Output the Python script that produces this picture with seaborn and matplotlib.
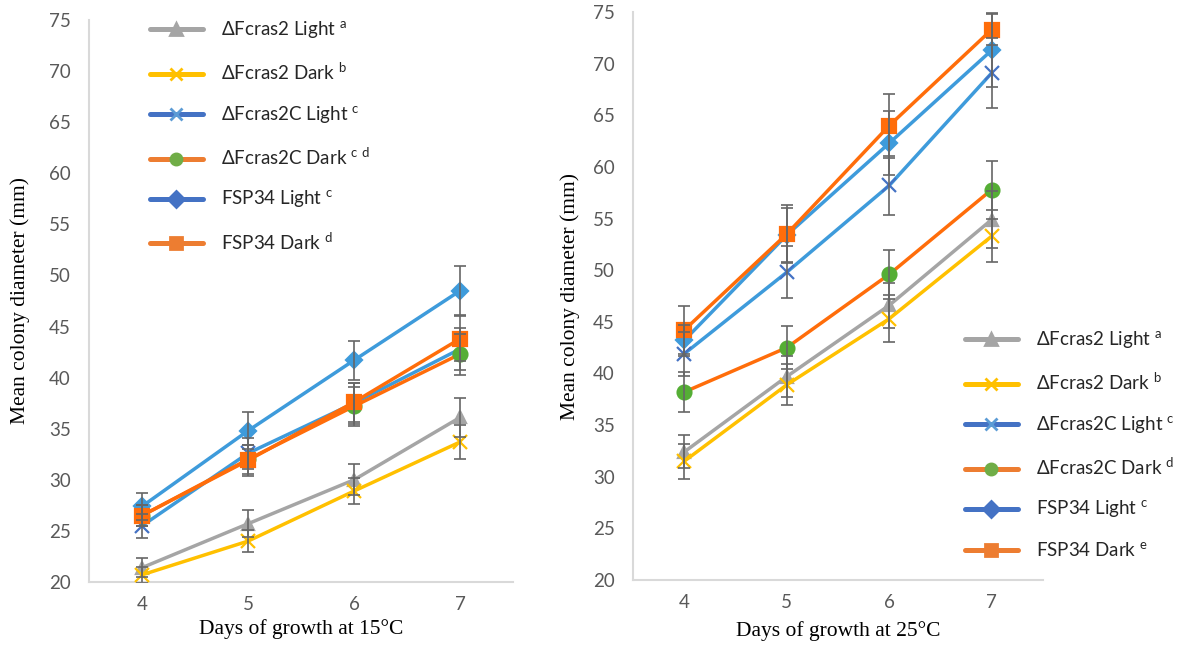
#===========================================
# Colony growth of Fcras2 strains, light vs dark
# 15 C and 25 C panels
#===========================================

import pandas as pd
import matplotlib
matplotlib.use("Agg")
import matplotlib.pyplot as plt
from matplotlib.lines import Line2D
import seaborn as sns

# -----------------------------------------
# Data
# -----------------------------------------

days = [4, 5, 6, 7]
strains = ["ΔFcras2 Light", "ΔFcras2 Dark", "ΔFcras2C Light",
           "ΔFcras2C Dark", "FSP34 Light", "FSP34 Dark"]

# 15 C
c2_light_15 = [21.4, 25.7, 30.0, 36.1]
c2_dark_15 = [20.7, 24.0, 28.9, 33.7]
c2c_light_15 = [25.5, 32.6, 37.5, 42.8]
c2c_dark_15 = [26.5, 32.0, 37.2, 42.3]
fsp_light_15 = [27.4, 34.8, 41.7, 48.5]
fsp_dark_15 = [26.5, 31.9, 37.6, 43.8]

c2_light_15_err = [0.9, 1.3, 1.5, 1.9]
c2_dark_15_err = [0.8, 1.1, 1.3, 1.7]
c2c_light_15_err = [1.2, 1.5, 2.0, 2.1]
c2c_dark_15_err = [1.0, 1.4, 1.9, 2.0]
fsp_light_15_err = [1.3, 1.8, 1.9, 2.4]
fsp_dark_15_err = [1.0, 1.5, 1.9, 2.2]

# 25 C
c2_light_25 = [32.4, 39.7, 46.6, 54.9]
c2_dark_25 = [31.5, 38.9, 45.3, 53.3]
c2c_light_25 = [41.9, 49.8, 58.2, 69.1]
c2c_dark_25 = [38.2, 42.5, 49.6, 57.8]
fsp_light_25 = [43.2, 53.4, 62.3, 71.3]
fsp_dark_25 = [44.2, 53.5, 64.0, 73.3]

c2_light_25_err = [1.6, 2.0, 2.2, 2.8]
c2_dark_25_err = [1.7, 2.0, 2.3, 2.5]
c2c_light_25_err = [2.1, 2.5, 2.9, 3.4]
c2c_dark_25_err = [1.9, 2.1, 2.4, 2.8]
fsp_light_25_err = [1.5, 2.6, 3.1, 3.6]
fsp_dark_25_err = [2.3, 2.8, 3.1, 1.5]

# significance letters
letters_15 = ["a", "b", "c", "c\\ d", "c", "d"]
letters_25 = ["a", "b", "c", "d", "c", "e"]

means_15 = [c2_light_15, c2_dark_15, c2c_light_15, c2c_dark_15, fsp_light_15, fsp_dark_15]
errs_15 = [c2_light_15_err, c2_dark_15_err, c2c_light_15_err,
           c2c_dark_15_err, fsp_light_15_err, fsp_dark_15_err]
means_25 = [c2_light_25, c2_dark_25, c2c_light_25, c2c_dark_25, fsp_light_25, fsp_dark_25]
errs_25 = [c2_light_25_err, c2_dark_25_err, c2c_light_25_err,
           c2c_dark_25_err, fsp_light_25_err, fsp_dark_25_err]

rows = []
for temp, means, errs in [(15, means_15, errs_15), (25, means_25, errs_25)]:
    for s, m, e in zip(strains, means, errs):
        for d, mv, ev in zip(days, m, e):
            rows.append({"temp": temp, "strain": s, "day": d, "mean": mv, "err": ev})
df = pd.DataFrame(rows)

# -----------------------------------------
# Style
# -----------------------------------------

sns.set_style("white")
plt.rcParams["font.family"] = ["Lato", "DejaVu Sans"]
plt.rcParams["mathtext.fontset"] = "custom"
plt.rcParams["mathtext.rm"] = "Lato"

# colours of the drawn lines / markers
line_col = ["#A5A5A5", "#FFC000", "#3E9BDB", "#FF6D0A", "#3E9BDB", "#FF6D0A"]
mark_col = ["#A5A5A5", "#FFC000", "#4472C4", "#55AE35", "#3E9BDB", "#FF6D0A"]
markers = ["^", "x", "x", "o", "D", "s"]
msizes = [9, 10, 10, 10, 8, 10]
# colours shown in the legend swatches
leg_line = ["#A5A5A5", "#FFC000", "#4472C4", "#ED7D31", "#4472C4", "#ED7D31"]
leg_mark = ["#A5A5A5", "#FFC000", "#5B9BD5", "#70AD47", "#4472C4", "#ED7D31"]

tick_col = "#595959"
spine_col = "#D9D9D9"

fig = plt.figure(figsize=(11.88, 6.47), dpi=100)
ax1 = fig.add_axes([89/1188, 65/647, 424/1188, 562/647])
ax2 = fig.add_axes([633/1188, 67/647, 410/1188, 568/647])


def draw_panel(ax, temp, letters, xlabel, leg_anchor, label_x, xlabel_y):
    sub = df[df["temp"] == temp]
    for i, s in enumerate(strains):
        d = sub[sub["strain"] == s]
        sns.lineplot(data=d, x="day", y="mean", ax=ax, color=line_col[i],
                     linewidth=2.5, marker=markers[i], markersize=msizes[i],
                     markerfacecolor=mark_col[i], markeredgecolor=mark_col[i],
                     markeredgewidth=1.6, errorbar=None, legend=False, zorder=2 + i)
        ax.errorbar(d["day"], d["mean"], yerr=d["err"], fmt="none",
                    ecolor="#666666", elinewidth=1.2, capsize=4, capthick=1.2,
                    zorder=10)

    ax.set_xlim(3.5, 7.5)
    ax.set_ylim(20, 75)
    ax.set_xticks(days)
    ax.set_yticks(range(20, 76, 5))
    ax.tick_params(axis="both", length=0, labelsize=13.5, colors=tick_col)
    ax.tick_params(axis="y", pad=13)
    ax.tick_params(axis="x", pad=10)
    for side in ["top", "right"]:
        ax.spines[side].set_visible(False)
    for side in ["left", "bottom"]:
        ax.spines[side].set_color(spine_col)
        ax.spines[side].set_linewidth(1.5)

    ax.set_xlabel(xlabel, family="Liberation Serif", fontsize=15.5, color="black")
    ax.set_ylabel("Mean colony diameter (mm)", family="Liberation Serif",
                  fontsize=15.5, color="black")
    ax.yaxis.set_label_coords(label_x, 0.5)
    ax.xaxis.set_label_coords(0.5, xlabel_y)

    handles = []
    for i, s in enumerate(strains):
        handles.append(Line2D([0], [0], color=leg_line[i], linewidth=3.6,
                              marker=markers[i], markersize=8,
                              markerfacecolor=leg_mark[i], markeredgecolor=leg_mark[i],
                              markeredgewidth=2,
                              label=s + " $^{\\mathrm{" + letters[i] + "}}$"))
    ax.legend(handles=handles, loc="upper left", bbox_to_anchor=leg_anchor,
              bbox_transform=fig.transFigure, frameon=False, fontsize=13.5,
              handlelength=2.8, handletextpad=1.0, labelspacing=1.1,
              borderpad=0, borderaxespad=0, labelcolor="#262626")


draw_panel(ax1, 15, letters_15, "Days of growth at 15°C",
           (150/1188, 1 - 19/647), -0.14, -0.066)
draw_panel(ax2, 25, letters_25, "Days of growth at 25°C",
           (965/1188, 1 - 329/647), -0.13, -0.072)

plt.savefig("out.png", dpi=100)
